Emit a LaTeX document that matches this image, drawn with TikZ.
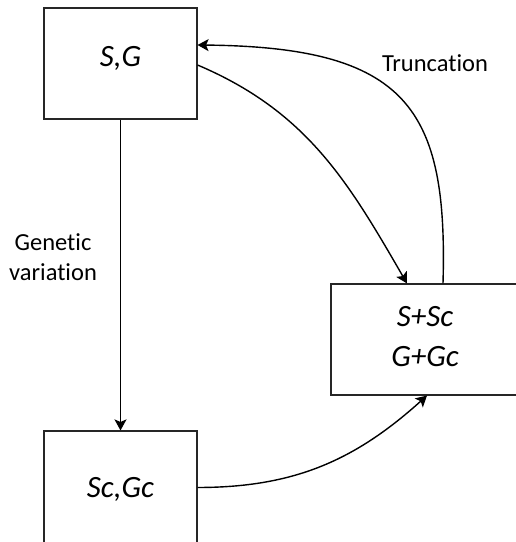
\documentclass[tikz,border=0pt]{standalone}
\usepackage{fontspec}
\setmainfont{Carlito}[Ligatures=NoCommon]
\usetikzlibrary{arrows.meta}
\begin{document}
\begin{tikzpicture}[x=1pt,y=1pt,
  box/.style={draw=black!85, line width=1.1pt, rectangle, inner sep=0pt,
    font=\fontsize{31}{40}\selectfont\itshape, align=center},
  conn/.style={line width=1.4pt, -{Stealth[length=11pt,width=12pt,inset=2.5pt]}},
  lbl/.style={inner sep=0pt, font=\fontsize{24.5}{30}\selectfont, align=center}]
\useasboundingbox (0,0) rectangle (516,542);

% population boxes
\node[box, minimum width=153pt, minimum height=111pt,
      text height=12pt, text depth=6pt] (sg) at (120.5,478.5) {S,G};
\node[box, minimum width=153pt, minimum height=113pt,
      text height=19pt, text depth=0pt] (scgc) at (120.5,54.5) {Sc,Gc};
\node[box, minimum width=188pt, minimum height=111pt] (sum) at (425,202.5)
      {S+Sc\\G+Gc\rule[-6pt]{0pt}{0pt}};

% connectors
\draw[conn] (sg.south) -- (scgc.north);
\draw[conn] ([yshift=-1.5pt]sg.east) to[out=-23,in=120] ([xshift=-18pt]sum.north);
\draw[conn] ([xshift=18pt]sum.north) .. controls +(5,175) and +(210,-2) .. ([yshift=18.5pt]sg.east);
\draw[conn] (scgc.east) to[out=0,in=-138] ([xshift=2pt]sum.south);

% labels
\node[lbl] (gv) at (53,285) {Genetic\\variation};
\node[lbl, anchor=base] (trunc) at (435,470) {Truncation};
\end{tikzpicture}
\end{document}
